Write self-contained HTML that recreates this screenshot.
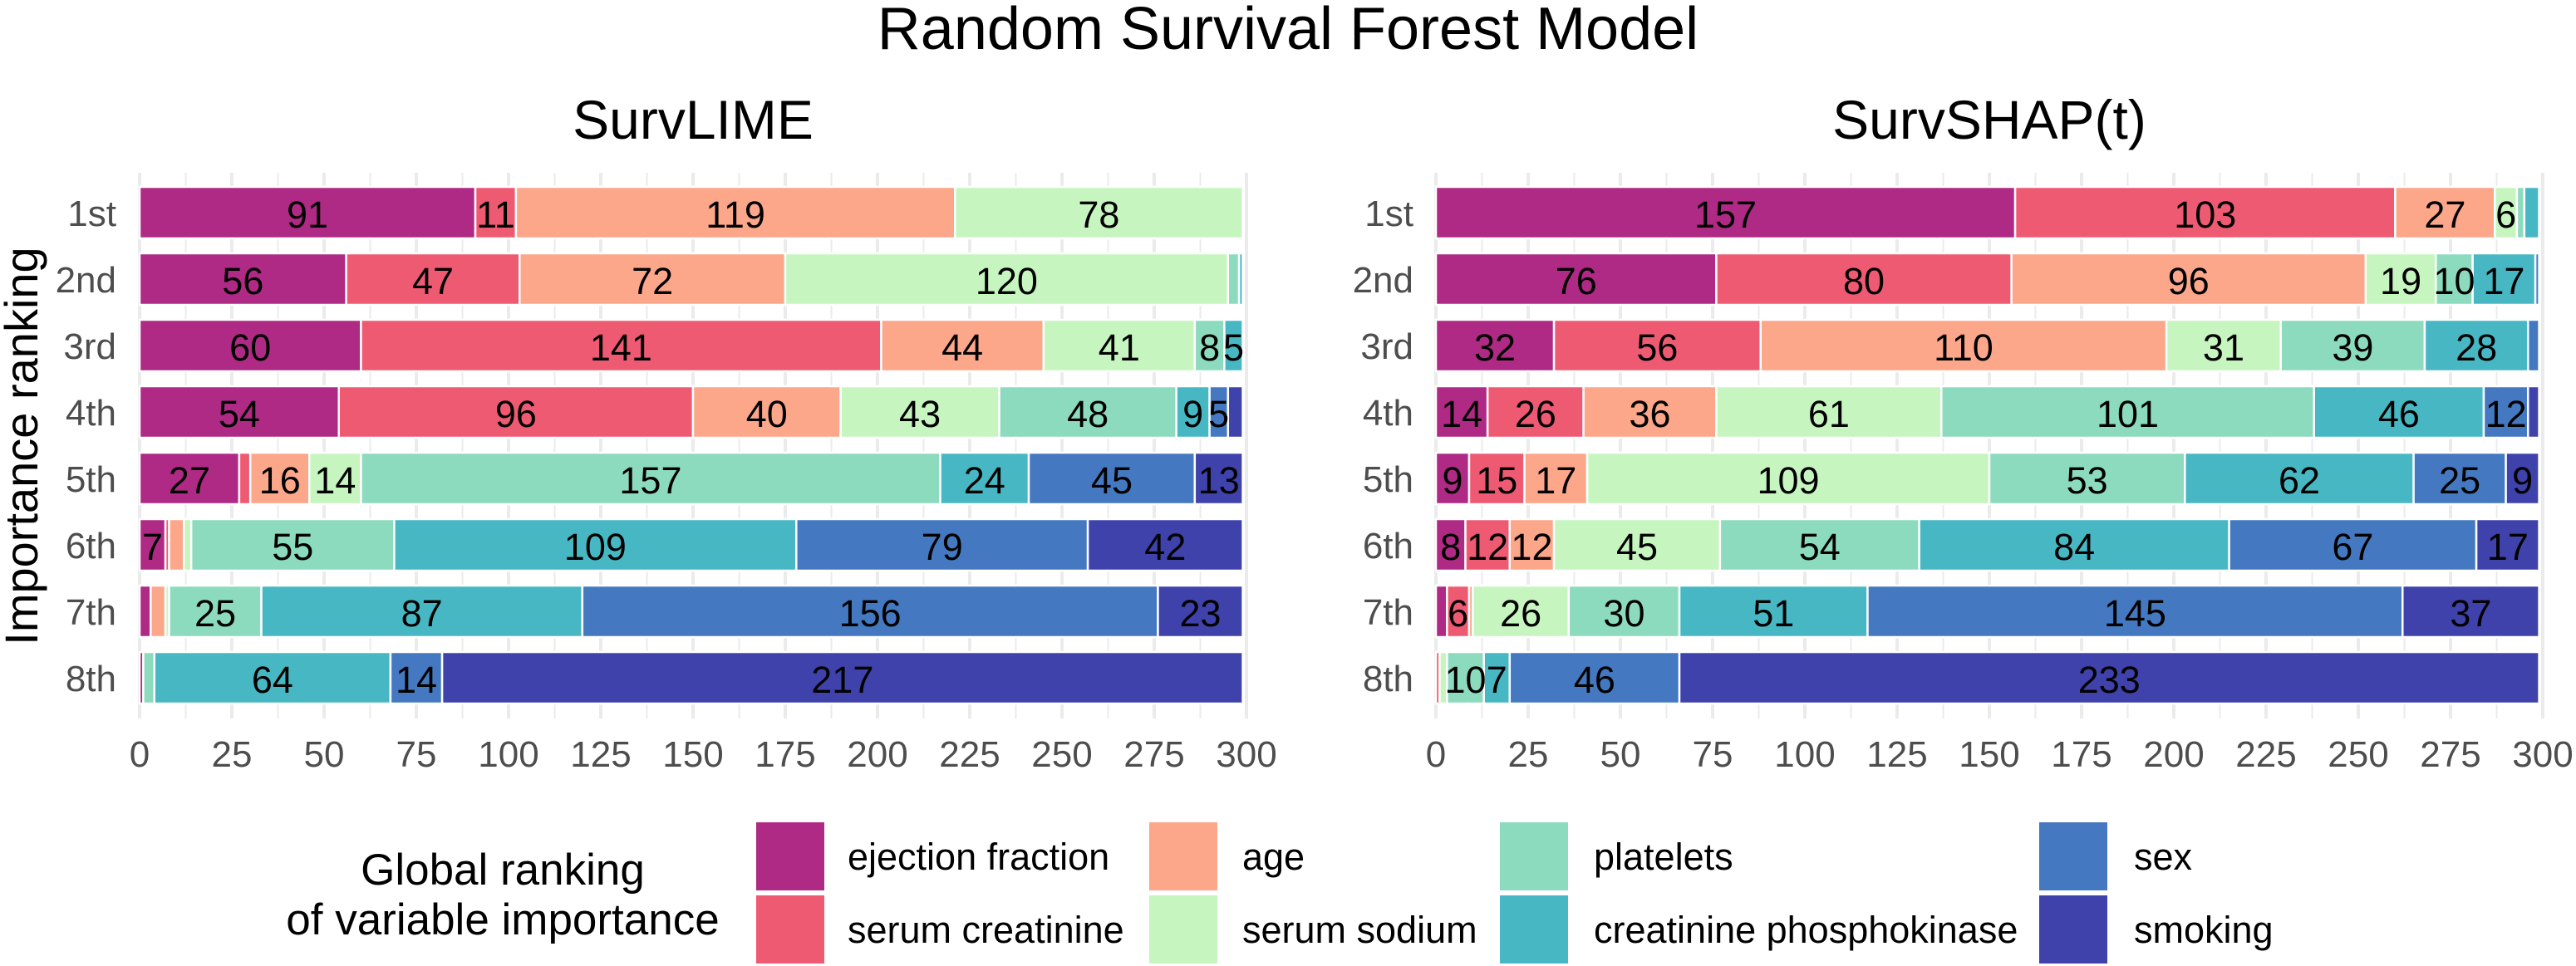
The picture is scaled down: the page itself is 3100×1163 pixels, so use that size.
<!DOCTYPE html>
<html><head><meta charset="utf-8"><style>
html,body{margin:0;padding:0;background:#fff;}
svg{display:block;font-family:"Liberation Sans",Arial,sans-serif;}
.r rect{stroke:#fff;stroke-width:2.5;vector-effect:non-scaling-stroke;}
.ef{fill:#AE2A84}.sc{fill:#EE5A72}.ag{fill:#FCA68A}.so{fill:#C6F5BF}.pl{fill:#8CDBBE}.cp{fill:#47B8C3}.sx{fill:#4479C1}.sm{fill:#3F42AB}
.bl text{font-size:45px;fill:#000;text-anchor:middle;}
.tk{font-size:44px;fill:#4d4d4d;}
.lg{font-size:45px;fill:#000;}
</style></head><body>
<svg width="3100" height="1163" viewBox="0 0 3100 1163" xmlns="http://www.w3.org/2000/svg">
<text x="1550" y="59" font-size="72" text-anchor="middle">Random Survival Forest Model</text>
<text x="834" y="167" font-size="66" text-anchor="middle">SurvLIME</text>
<text x="2394" y="167" font-size="66" text-anchor="middle">SurvSHAP(t)</text>
<text transform="translate(45 537) rotate(-90)" font-size="56" text-anchor="middle">Importance ranking</text>

<!-- gridlines -->
<g stroke="#ebebeb">
<g transform="translate(168 0) scale(4.44 1)" stroke-width="2" style="vector-effect:non-scaling-stroke">
<path vector-effect="non-scaling-stroke" stroke-width="2" d="M12.5 208V865M37.5 208V865M62.5 208V865M87.5 208V865M112.5 208V865M137.5 208V865M162.5 208V865M187.5 208V865M212.5 208V865M237.5 208V865M262.5 208V865M287.5 208V865"/>
<path vector-effect="non-scaling-stroke" stroke-width="4" d="M0 208V865M25 208V865M50 208V865M75 208V865M100 208V865M125 208V865M150 208V865M175 208V865M200 208V865M225 208V865M250 208V865M275 208V865M300 208V865"/>
</g>
<g transform="translate(1728 0) scale(4.44 1)">
<path vector-effect="non-scaling-stroke" stroke-width="2" d="M12.5 208V865M37.5 208V865M62.5 208V865M87.5 208V865M112.5 208V865M137.5 208V865M162.5 208V865M187.5 208V865M212.5 208V865M237.5 208V865M262.5 208V865M287.5 208V865"/>
<path vector-effect="non-scaling-stroke" stroke-width="4" d="M0 208V865M25 208V865M50 208V865M75 208V865M100 208V865M125 208V865M150 208V865M175 208V865M200 208V865M225 208V865M250 208V865M275 208V865M300 208V865"/>
</g>
</g>

<!-- LEFT bars -->
<g class="r" transform="translate(168 0) scale(4.44 1)">
<rect class="ef" x="0" width="91" y="225" height="62"/><rect class="sc" x="91" width="11" y="225" height="62"/><rect class="ag" x="102" width="119" y="225" height="62"/><rect class="so" x="221" width="78" y="225" height="62"/>
<rect class="ef" x="0" width="56" y="305" height="62"/><rect class="sc" x="56" width="47" y="305" height="62"/><rect class="ag" x="103" width="72" y="305" height="62"/><rect class="so" x="175" width="120" y="305" height="62"/><rect class="pl" x="295" width="3" y="305" height="62"/><rect class="cp" x="298" width="1" y="305" height="62"/>
<rect class="ef" x="0" width="60" y="385" height="62"/><rect class="sc" x="60" width="141" y="385" height="62"/><rect class="ag" x="201" width="44" y="385" height="62"/><rect class="so" x="245" width="41" y="385" height="62"/><rect class="pl" x="286" width="8" y="385" height="62"/><rect class="cp" x="294" width="5" y="385" height="62"/>
<rect class="ef" x="0" width="54" y="465" height="62"/><rect class="sc" x="54" width="96" y="465" height="62"/><rect class="ag" x="150" width="40" y="465" height="62"/><rect class="so" x="190" width="43" y="465" height="62"/><rect class="pl" x="233" width="48" y="465" height="62"/><rect class="cp" x="281" width="9" y="465" height="62"/><rect class="sx" x="290" width="5" y="465" height="62"/><rect class="sm" x="295" width="4" y="465" height="62"/>
<rect class="ef" x="0" width="27" y="545" height="62"/><rect class="sc" x="27" width="3" y="545" height="62"/><rect class="ag" x="30" width="16" y="545" height="62"/><rect class="so" x="46" width="14" y="545" height="62"/><rect class="pl" x="60" width="157" y="545" height="62"/><rect class="cp" x="217" width="24" y="545" height="62"/><rect class="sx" x="241" width="45" y="545" height="62"/><rect class="sm" x="286" width="13" y="545" height="62"/>
<rect class="ef" x="0" width="7" y="625" height="62"/><rect class="sc" x="7" width="1" y="625" height="62"/><rect class="ag" x="8" width="4" y="625" height="62"/><rect class="so" x="12" width="2" y="625" height="62"/><rect class="pl" x="14" width="55" y="625" height="62"/><rect class="cp" x="69" width="109" y="625" height="62"/><rect class="sx" x="178" width="79" y="625" height="62"/><rect class="sm" x="257" width="42" y="625" height="62"/>
<rect class="ef" x="0" width="3" y="705" height="62"/><rect class="ag" x="3" width="4" y="705" height="62"/><rect class="so" x="7" width="1" y="705" height="62"/><rect class="pl" x="8" width="25" y="705" height="62"/><rect class="cp" x="33" width="87" y="705" height="62"/><rect class="sx" x="120" width="156" y="705" height="62"/><rect class="sm" x="276" width="23" y="705" height="62"/>
<rect class="ef" x="0" width="1" y="785" height="62"/><rect class="pl" x="1" width="3" y="785" height="62"/><rect class="cp" x="4" width="64" y="785" height="62"/><rect class="sx" x="68" width="14" y="785" height="62"/><rect class="sm" x="82" width="217" y="785" height="62"/>
</g>
<g class="bl" transform="translate(168 0) scale(4.44 1)">
<text transform="translate(45.5 274) scale(.2252 1)">91</text><text transform="translate(96.5 274) scale(.2252 1)">11</text><text transform="translate(161.5 274) scale(.2252 1)">119</text><text transform="translate(260 274) scale(.2252 1)">78</text>
<text transform="translate(28 354) scale(.2252 1)">56</text><text transform="translate(79.5 354) scale(.2252 1)">47</text><text transform="translate(139 354) scale(.2252 1)">72</text><text transform="translate(235 354) scale(.2252 1)">120</text>
<text transform="translate(30 434) scale(.2252 1)">60</text><text transform="translate(130.5 434) scale(.2252 1)">141</text><text transform="translate(223 434) scale(.2252 1)">44</text><text transform="translate(265.5 434) scale(.2252 1)">41</text><text transform="translate(290 434) scale(.2252 1)">8</text><text transform="translate(296.5 434) scale(.2252 1)">5</text>
<text transform="translate(27 514) scale(.2252 1)">54</text><text transform="translate(102 514) scale(.2252 1)">96</text><text transform="translate(170 514) scale(.2252 1)">40</text><text transform="translate(211.5 514) scale(.2252 1)">43</text><text transform="translate(257 514) scale(.2252 1)">48</text><text transform="translate(285.5 514) scale(.2252 1)">9</text><text transform="translate(292.5 514) scale(.2252 1)">5</text>
<text transform="translate(13.5 594) scale(.2252 1)">27</text><text transform="translate(38 594) scale(.2252 1)">16</text><text transform="translate(53 594) scale(.2252 1)">14</text><text transform="translate(138.5 594) scale(.2252 1)">157</text><text transform="translate(229 594) scale(.2252 1)">24</text><text transform="translate(263.5 594) scale(.2252 1)">45</text><text transform="translate(292.5 594) scale(.2252 1)">13</text>
<text transform="translate(3.5 674) scale(.2252 1)">7</text><text transform="translate(41.5 674) scale(.2252 1)">55</text><text transform="translate(123.5 674) scale(.2252 1)">109</text><text transform="translate(217.5 674) scale(.2252 1)">79</text><text transform="translate(278 674) scale(.2252 1)">42</text>
<text transform="translate(20.5 754) scale(.2252 1)">25</text><text transform="translate(76.5 754) scale(.2252 1)">87</text><text transform="translate(198 754) scale(.2252 1)">156</text><text transform="translate(287.5 754) scale(.2252 1)">23</text>
<text transform="translate(36 834) scale(.2252 1)">64</text><text transform="translate(75 834) scale(.2252 1)">14</text><text transform="translate(190.5 834) scale(.2252 1)">217</text>
</g>

<!-- RIGHT bars -->
<g class="r" transform="translate(1728 0) scale(4.44 1)">
<rect class="ef" x="0" width="157" y="225" height="62"/><rect class="sc" x="157" width="103" y="225" height="62"/><rect class="ag" x="260" width="27" y="225" height="62"/><rect class="so" x="287" width="6" y="225" height="62"/><rect class="pl" x="293" width="2" y="225" height="62"/><rect class="cp" x="295" width="4" y="225" height="62"/>
<rect class="ef" x="0" width="76" y="305" height="62"/><rect class="sc" x="76" width="80" y="305" height="62"/><rect class="ag" x="156" width="96" y="305" height="62"/><rect class="so" x="252" width="19" y="305" height="62"/><rect class="pl" x="271" width="10" y="305" height="62"/><rect class="cp" x="281" width="17" y="305" height="62"/><rect class="sx" x="298" width="1" y="305" height="62"/>
<rect class="ef" x="0" width="32" y="385" height="62"/><rect class="sc" x="32" width="56" y="385" height="62"/><rect class="ag" x="88" width="110" y="385" height="62"/><rect class="so" x="198" width="31" y="385" height="62"/><rect class="pl" x="229" width="39" y="385" height="62"/><rect class="cp" x="268" width="28" y="385" height="62"/><rect class="sx" x="296" width="3" y="385" height="62"/>
<rect class="ef" x="0" width="14" y="465" height="62"/><rect class="sc" x="14" width="26" y="465" height="62"/><rect class="ag" x="40" width="36" y="465" height="62"/><rect class="so" x="76" width="61" y="465" height="62"/><rect class="pl" x="137" width="101" y="465" height="62"/><rect class="cp" x="238" width="46" y="465" height="62"/><rect class="sx" x="284" width="12" y="465" height="62"/><rect class="sm" x="296" width="3" y="465" height="62"/>
<rect class="ef" x="0" width="9" y="545" height="62"/><rect class="sc" x="9" width="15" y="545" height="62"/><rect class="ag" x="24" width="17" y="545" height="62"/><rect class="so" x="41" width="109" y="545" height="62"/><rect class="pl" x="150" width="53" y="545" height="62"/><rect class="cp" x="203" width="62" y="545" height="62"/><rect class="sx" x="265" width="25" y="545" height="62"/><rect class="sm" x="290" width="9" y="545" height="62"/>
<rect class="ef" x="0" width="8" y="625" height="62"/><rect class="sc" x="8" width="12" y="625" height="62"/><rect class="ag" x="20" width="12" y="625" height="62"/><rect class="so" x="32" width="45" y="625" height="62"/><rect class="pl" x="77" width="54" y="625" height="62"/><rect class="cp" x="131" width="84" y="625" height="62"/><rect class="sx" x="215" width="67" y="625" height="62"/><rect class="sm" x="282" width="17" y="625" height="62"/>
<rect class="ef" x="0" width="3" y="705" height="62"/><rect class="sc" x="3" width="6" y="705" height="62"/><rect class="ag" x="9" width="1" y="705" height="62"/><rect class="so" x="10" width="26" y="705" height="62"/><rect class="pl" x="36" width="30" y="705" height="62"/><rect class="cp" x="66" width="51" y="705" height="62"/><rect class="sx" x="117" width="145" y="705" height="62"/><rect class="sm" x="262" width="37" y="705" height="62"/>
<rect class="sc" x="0" width="1" y="785" height="62"/><rect class="so" x="1" width="2" y="785" height="62"/><rect class="pl" x="3" width="10" y="785" height="62"/><rect class="cp" x="13" width="7" y="785" height="62"/><rect class="sx" x="20" width="46" y="785" height="62"/><rect class="sm" x="66" width="233" y="785" height="62"/>
</g>
<g class="bl" transform="translate(1728 0) scale(4.44 1)">
<text transform="translate(78.5 274) scale(.2252 1)">157</text><text transform="translate(208.5 274) scale(.2252 1)">103</text><text transform="translate(273.5 274) scale(.2252 1)">27</text><text transform="translate(290 274) scale(.2252 1)">6</text>
<text transform="translate(38 354) scale(.2252 1)">76</text><text transform="translate(116 354) scale(.2252 1)">80</text><text transform="translate(204 354) scale(.2252 1)">96</text><text transform="translate(261.5 354) scale(.2252 1)">19</text><text transform="translate(276 354) scale(.2252 1)">10</text><text transform="translate(289.5 354) scale(.2252 1)">17</text>
<text transform="translate(16 434) scale(.2252 1)">32</text><text transform="translate(60 434) scale(.2252 1)">56</text><text transform="translate(143 434) scale(.2252 1)">110</text><text transform="translate(213.5 434) scale(.2252 1)">31</text><text transform="translate(248.5 434) scale(.2252 1)">39</text><text transform="translate(282 434) scale(.2252 1)">28</text>
<text transform="translate(7 514) scale(.2252 1)">14</text><text transform="translate(27 514) scale(.2252 1)">26</text><text transform="translate(58 514) scale(.2252 1)">36</text><text transform="translate(106.5 514) scale(.2252 1)">61</text><text transform="translate(187.5 514) scale(.2252 1)">101</text><text transform="translate(261 514) scale(.2252 1)">46</text><text transform="translate(290 514) scale(.2252 1)">12</text>
<text transform="translate(4.5 594) scale(.2252 1)">9</text><text transform="translate(16.5 594) scale(.2252 1)">15</text><text transform="translate(32.5 594) scale(.2252 1)">17</text><text transform="translate(95.5 594) scale(.2252 1)">109</text><text transform="translate(176.5 594) scale(.2252 1)">53</text><text transform="translate(234 594) scale(.2252 1)">62</text><text transform="translate(277.5 594) scale(.2252 1)">25</text><text transform="translate(294.5 594) scale(.2252 1)">9</text>
<text transform="translate(4 674) scale(.2252 1)">8</text><text transform="translate(14 674) scale(.2252 1)">12</text><text transform="translate(26 674) scale(.2252 1)">12</text><text transform="translate(54.5 674) scale(.2252 1)">45</text><text transform="translate(104 674) scale(.2252 1)">54</text><text transform="translate(173 674) scale(.2252 1)">84</text><text transform="translate(248.5 674) scale(.2252 1)">67</text><text transform="translate(290.5 674) scale(.2252 1)">17</text>
<text transform="translate(6 754) scale(.2252 1)">6</text><text transform="translate(23 754) scale(.2252 1)">26</text><text transform="translate(51 754) scale(.2252 1)">30</text><text transform="translate(91.5 754) scale(.2252 1)">51</text><text transform="translate(189.5 754) scale(.2252 1)">145</text><text transform="translate(280.5 754) scale(.2252 1)">37</text>
<text transform="translate(8 834) scale(.2252 1)">10</text><text transform="translate(16.5 834) scale(.2252 1)">7</text><text transform="translate(43 834) scale(.2252 1)">46</text><text transform="translate(182.5 834) scale(.2252 1)">233</text>
</g>

<!-- y tick labels -->
<g class="tk" text-anchor="end">
<text x="140" y="272">1st</text><text x="140" y="352">2nd</text><text x="140" y="432">3rd</text><text x="140" y="512">4th</text><text x="140" y="592">5th</text><text x="140" y="672">6th</text><text x="140" y="752">7th</text><text x="140" y="832">8th</text>
<text x="1701" y="272">1st</text><text x="1701" y="352">2nd</text><text x="1701" y="432">3rd</text><text x="1701" y="512">4th</text><text x="1701" y="592">5th</text><text x="1701" y="672">6th</text><text x="1701" y="752">7th</text><text x="1701" y="832">8th</text>
</g>
<!-- x tick labels -->
<g class="tk" text-anchor="middle">
<text x="168" y="923">0</text><text x="279" y="923">25</text><text x="390" y="923">50</text><text x="501" y="923">75</text><text x="612" y="923">100</text><text x="723" y="923">125</text><text x="834" y="923">150</text><text x="945" y="923">175</text><text x="1056" y="923">200</text><text x="1167" y="923">225</text><text x="1278" y="923">250</text><text x="1389" y="923">275</text><text x="1500" y="923">300</text>
<text x="1728" y="923">0</text><text x="1839" y="923">25</text><text x="1950" y="923">50</text><text x="2061" y="923">75</text><text x="2172" y="923">100</text><text x="2283" y="923">125</text><text x="2394" y="923">150</text><text x="2505" y="923">175</text><text x="2616" y="923">200</text><text x="2727" y="923">225</text><text x="2838" y="923">250</text><text x="2949" y="923">275</text><text x="3060" y="923">300</text>
</g>

<!-- legend -->
<text x="605" y="1065" font-size="53" text-anchor="middle">Global ranking</text>
<text x="605" y="1125" font-size="53" text-anchor="middle">of variable importance</text>
<rect class="ef" x="910" y="990" width="82" height="82"/><rect class="sc" x="910" y="1078" width="82" height="82"/>
<rect class="ag" x="1383" y="990" width="82" height="82"/><rect class="so" x="1383" y="1078" width="82" height="82"/>
<rect class="pl" x="1805" y="990" width="82" height="82"/><rect class="cp" x="1805" y="1078" width="82" height="82"/>
<rect class="sx" x="2454" y="990" width="82" height="82"/><rect class="sm" x="2454" y="1078" width="82" height="82"/>
<g class="lg">
<text x="1020" y="1047">ejection fraction</text><text x="1020" y="1135">serum creatinine</text>
<text x="1495" y="1047">age</text><text x="1495" y="1135">serum sodium</text>
<text x="1918" y="1047">platelets</text><text x="1918" y="1135">creatinine phosphokinase</text>
<text x="2568" y="1047">sex</text><text x="2568" y="1135">smoking</text>
</g>
</svg>
</body></html>
